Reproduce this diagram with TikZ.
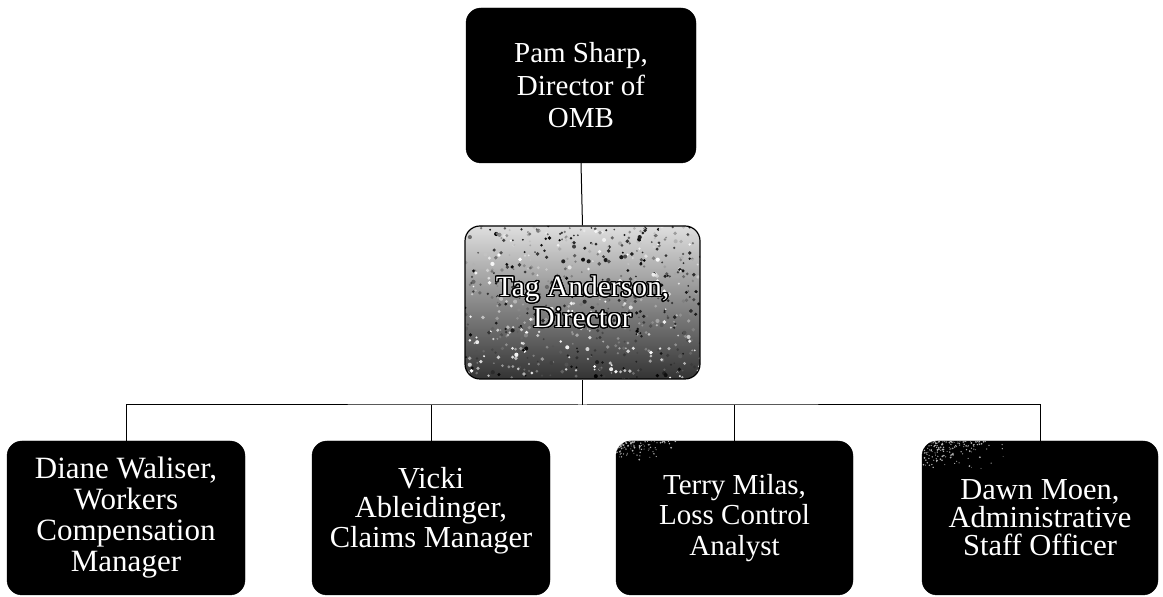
\documentclass[tikz,border=0pt]{standalone}
\usepackage{fontspec}
\setmainfont{Liberation Serif}
\usepackage{contour}
\contourlength{1.3pt}
\contournumber{24}
\usetikzlibrary{calc}
\begin{document}
\begin{tikzpicture}[x=1pt,y=1pt,
  box/.style={draw=black,fill=black,rounded corners=15pt,
    minimum width=236pt,minimum height=154pt,inner sep=0pt,
    text=white,align=center,font=\fontsize{29}{30.5}\selectfont},
  link/.style={draw=black,line width=1pt}]
% canvas
\path[use as bounding box,fill=white] (0,0) rectangle (1163,597);

% top level
\node[box,minimum width=230pt,minimum height=155pt,
  font=\fontsize{29}{32.5}\selectfont] (pam) at (581,511.5)
  {Pam Sharp,\\Director of\\OMB};

% second level: grainy grey box
\coordinate (midc) at (582.5,294.5);
\begin{scope}
  \path[clip,rounded corners=15pt] ($(midc)+(-117.5,-76.5)$) rectangle ($(midc)+(117.5,76.5)$);
  \shade[top color=gray!25,bottom color=black!80]
    ($(midc)+(-118,-77)$) rectangle ($(midc)+(118,77)$);
  \pgfmathsetseed{17}
  \foreach \i in {1,...,700}{
    \pgfmathsetmacro{\px}{rnd*236-118}
    \pgfmathsetmacro{\py}{rnd*154-77}
    \pgfmathsetmacro{\shadeval}{int(100*rnd)}
    \fill[black!\shadeval] ($(midc)+(\px,\py)$) circle (0.9+1.2*rnd);
  }
\end{scope}
\node[draw=black,line width=1.2pt,rounded corners=15pt,minimum width=235pt,
  minimum height=153pt,inner sep=0pt,text=white,align=center,
  font=\fontsize{29.5}{31}\selectfont] (tag) at (midc)
  {\contour{black}{Tag Anderson,}\\\contour{black}{Director}};

% third level
\node[box,minimum width=238pt,font=\fontsize{31}{31}\selectfont] (diane) at (126,79)
  {Diane Waliser,\\Workers\\Compensation\\Manager};
\node[box,minimum width=238pt,font=\fontsize{30.5}{29.5}\selectfont] (vicki) at (431,79)
  {Vicki\\Ableidinger,\\Claims Manager\\[-8pt]\mbox{}};
\node[box,minimum width=237pt] (terry) at (734.5,79)
  {Terry Milas,\\Loss Control\\Analyst};
\node[box,minimum width=236pt,font=\fontsize{30.5}{28}\selectfont] (dawn) at (1040,79)
  {Dawn Moen,\\Administrative\\Staff Officer};

% faint grain in the upper left corners of two staff boxes
\begin{scope}
  \path[clip,rounded corners=15pt] (terry.south west) rectangle (terry.north east);
  \pgfmathsetseed{5}
  \foreach \i in {1,...,110}{
    \pgfmathsetmacro{\px}{rnd*rnd*80}
    \pgfmathsetmacro{\py}{rnd*rnd*22}
    \fill[gray!60] ($(terry.north west)+(\px,-\py)$) circle (0.4+0.6*rnd);
  }
\end{scope}
\begin{scope}
  \path[clip,rounded corners=15pt] (dawn.south west) rectangle (dawn.north east);
  \pgfmathsetseed{9}
  \foreach \i in {1,...,180}{
    \pgfmathsetmacro{\px}{rnd*rnd*90}
    \pgfmathsetmacro{\py}{rnd*rnd*38}
    \fill[gray!60] ($(dawn.north west)+(\px,-\py)$) circle (0.4+0.6*rnd);
  }
\end{scope}

% connectors
\coordinate (bus) at (582.5,192);
\draw[link] (pam.south) -- (tag.north);
\draw[link] (tag.south) -- (bus);
\draw[link] (diane.north) |- (bus) -| (dawn.north);
\draw[link] (vicki.north) -- (vicki.north |- bus);
\draw[link] (terry.north) -- (terry.north |- bus);
\end{tikzpicture}
\end{document}
